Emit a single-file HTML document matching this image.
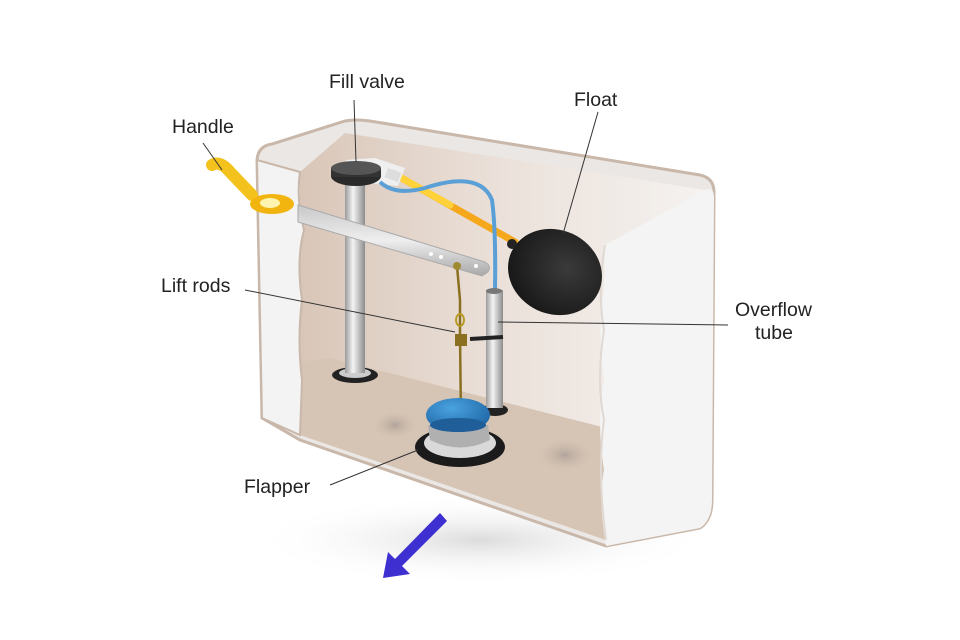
<!DOCTYPE html>
<html><head><meta charset="utf-8"><style>
html,body{margin:0;padding:0;background:#fff;width:960px;height:640px;overflow:hidden}
text{font-family:"Liberation Sans","DejaVu Sans",sans-serif;font-size:19.5px;fill:#222}
</style></head><body>
<svg width="960" height="640" viewBox="0 0 960 640" xmlns="http://www.w3.org/2000/svg">
<defs>
<linearGradient id="back" x1="0" y1="0" x2="1" y2="0">
<stop offset="0" stop-color="#d9c6b8"/><stop offset="0.5" stop-color="#ebe1da"/><stop offset="1" stop-color="#f5f2f0"/></linearGradient>
<linearGradient id="pipe" x1="0" y1="0" x2="1" y2="0">
<stop offset="0" stop-color="#9a9a9a"/><stop offset="0.4" stop-color="#f4f4f4"/><stop offset="1" stop-color="#8c8c8c"/></linearGradient>
<linearGradient id="bar" x1="0" y1="0" x2="0" y2="1">
<stop offset="0" stop-color="#c8c8c8"/><stop offset="0.5" stop-color="#eeeeee"/><stop offset="1" stop-color="#a8a8a8"/></linearGradient>
<radialGradient id="fl" cx="0.6" cy="0.4" r="0.7"><stop offset="0" stop-color="#3a3a3a"/><stop offset="1" stop-color="#151515"/></radialGradient>
<radialGradient id="bl" cx="0.4" cy="0.3" r="0.8"><stop offset="0" stop-color="#4aa3e0"/><stop offset="1" stop-color="#1a5f9e"/></radialGradient>
<radialGradient id="sh" cx="0.5" cy="0.5" r="0.5"><stop offset="0" stop-color="#dcdcdc"/><stop offset="1" stop-color="#fff" stop-opacity="0"/></radialGradient>
<radialGradient id="spot" cx="0.5" cy="0.5" r="0.5"><stop offset="0" stop-color="#a89c94" stop-opacity="0.8"/><stop offset="1" stop-color="#d7c5b5" stop-opacity="0"/></radialGradient>
</defs>
<ellipse cx="480" cy="540" rx="230" ry="45" fill="url(#sh)"/>
<path d="M257,160 Q258,146 272,144 L345,121 Q355,119 370,121 L700,175 Q714,178 714,192 L712,500 Q712,520 700,528 L606,546 L300,440 L262,418 Z" fill="#ebe7e4" stroke="#c9b8aa" stroke-width="3"/>
<path d="M300,172 L345,133 L705,190 L605,245 L606,440 L300,365 Z" fill="url(#back)"/>
<path d="M300,362 L330,358 L606,428 L606,540 L300,435 Z" fill="#d6c4b4"/>
<ellipse cx="395" cy="425" rx="25" ry="15" fill="url(#spot)"/>
<ellipse cx="565" cy="455" rx="30" ry="18" fill="url(#spot)"/>
<path d="M257,160 L300,172 Q296,200 304,230 Q296,260 302,300 Q297,340 302,380 L300,435 L262,418 Z" fill="#f3f3f3" stroke="#c9b8aa" stroke-width="2"/>
<path d="M605,245 L705,190 Q714,186 714,198 L712,500 Q712,520 700,528 L606,546 Q598,500 604,470 Q596,420 604,380 Q597,330 604,290 Z" fill="#f4f4f4"/>
<path d="M605,245 Q597,290 604,330 Q596,380 604,420 Q597,470 606,540" fill="none" stroke="#e0d8d2" stroke-width="2"/>
<ellipse cx="355" cy="375" rx="23" ry="8" fill="#222"/>
<ellipse cx="355" cy="373" rx="16" ry="5" fill="#ccc"/>
<rect x="345" y="180" width="20" height="193" fill="url(#pipe)"/>
<path d="M298,205 L485,262 Q492,266 488,272 L482,276 L298,222 Z" fill="url(#bar)" stroke="#aaa"/>
<circle cx="431" cy="254" r="2" fill="#fff"/><circle cx="441" cy="257" r="2" fill="#fff"/><circle cx="476" cy="266" r="2" fill="#fff"/>
<path d="M212,165 Q220,160 230,172 L252,195" stroke="#f4c21c" stroke-width="12" fill="none" stroke-linecap="round"/>
<ellipse cx="272" cy="204" rx="22" ry="10" fill="#f2b40e"/>
<ellipse cx="270" cy="203" rx="10" ry="5" fill="#fff3b0"/>
<path d="M398,176 L515,242" stroke="#f5a81c" stroke-width="7" stroke-linecap="round"/>
<path d="M398,176 L450,205" stroke="#ffd23a" stroke-width="7" stroke-linecap="round"/>
<path d="M345,160 L375,158 L405,168 L398,186 L370,183 Z" fill="#efefef"/>
<rect x="386" y="170" width="14" height="10" fill="#ddd" transform="rotate(20 393 175)"/>
<ellipse cx="356" cy="176" rx="25" ry="10" fill="#2a2a2a"/>
<rect x="331" y="168" width="50" height="9" fill="#333"/>
<ellipse cx="356" cy="168" rx="25" ry="7" fill="#555"/>
<path d="M380,182 Q395,196 425,188 Q480,170 492,200 Q496,230 495,290" fill="none" stroke="#5a9fd6" stroke-width="4"/>
<ellipse cx="495" cy="410" rx="13" ry="6" fill="#222"/>
<rect x="486" y="290" width="17" height="118" fill="url(#pipe)"/>
<ellipse cx="494" cy="291" rx="8" ry="3" fill="#777"/>
<path d="M470,339 L503,337" stroke="#222" stroke-width="4"/>
<path d="M457,266 L460,300 L460,335 L461,420" stroke="#8a7020" stroke-width="2.5" fill="none"/>
<circle cx="457" cy="266" r="4" fill="#a08a30"/>
<ellipse cx="460" cy="320" rx="4" ry="6" fill="none" stroke="#b89a22" stroke-width="2"/>
<rect x="455" y="334" width="12" height="12" fill="#8a7020"/>
<ellipse cx="460" cy="447" rx="45" ry="20" fill="#1b1b1b"/>
<ellipse cx="460" cy="443" rx="36" ry="15" fill="#d9d9d9"/>
<path d="M428,425 L488,425 L490,440 Q460,455 430,440 Z" fill="#b0b0b0"/>
<ellipse cx="458" cy="415" rx="32" ry="17" fill="url(#bl)"/>
<ellipse cx="458" cy="425" rx="28" ry="7" fill="#1f5e99"/>
<path d="M440,513 L447,521 L402,566 L410,574 L383,578 L388,552 L395,559 Z" fill="#3d2fd0"/>
<ellipse cx="555" cy="272" rx="48" ry="42" fill="url(#fl)" transform="rotate(25 555 272)"/>
<circle cx="512" cy="244" r="5" fill="#222"/>
<g stroke="#333" stroke-width="1" fill="none">
<line x1="354" y1="100" x2="356" y2="162"/>
<line x1="598" y1="112" x2="563" y2="234"/>
<line x1="203" y1="143" x2="222" y2="170"/>
<line x1="245" y1="290" x2="455" y2="332"/>
<line x1="728" y1="325" x2="498" y2="322"/>
<line x1="330" y1="485" x2="418" y2="450"/>
</g>
<text x="329" y="88">Fill valve</text>
<text x="574" y="106">Float</text>
<text x="172" y="133">Handle</text>
<text x="161" y="292">Lift rods</text>
<text x="735" y="316">Overflow</text>
<text x="755" y="339">tube</text>
<text x="244" y="493">Flapper</text>
</svg>
</body></html>
